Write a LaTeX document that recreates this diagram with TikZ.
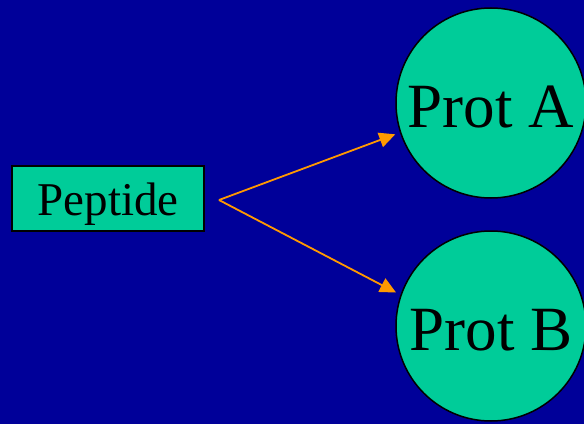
\documentclass[tikz,border=0pt]{standalone}
\usepackage{fontspec}
\setmainfont{Liberation Serif}
\usetikzlibrary{arrows.meta}
\definecolor{bgblue}{RGB}{0,0,153}
\definecolor{nodegreen}{RGB}{0,204,153}
\definecolor{arrorange}{RGB}{255,153,0}
\begin{document}
\begin{tikzpicture}[x=1pt,y=1pt,
  pepbox/.style={draw=black,line width=2pt,fill=nodegreen,minimum width=192pt,minimum height=65pt,inner sep=0pt,text height=34pt,text depth=0pt,font=\fontsize{47}{50}\selectfont},
  protcircle/.style={circle,draw=black,line width=1.5pt,fill=nodegreen,minimum size=190pt,inner sep=0pt,text height=48pt,text depth=0pt,font=\fontsize{63}{66}\selectfont},
  conn/.style={draw=arrorange,line width=1.8pt,-{Triangle[length=16pt,width=15pt]},shorten >=5pt}]
\fill[bgblue] (0,0) rectangle (584,424);
\useasboundingbox (0,0) rectangle (584,424);
\node[pepbox] (pep) at (108,225.5) {Peptide};
\node[protcircle] (A) at (491,321) {Prot A};
\node[protcircle] (B) at (491,98) {Prot B};
\coordinate (s) at (219,224);
\draw[conn] (s) -- (A.198);
\draw[conn] (s) -- (B.161);
\end{tikzpicture}
\end{document}
